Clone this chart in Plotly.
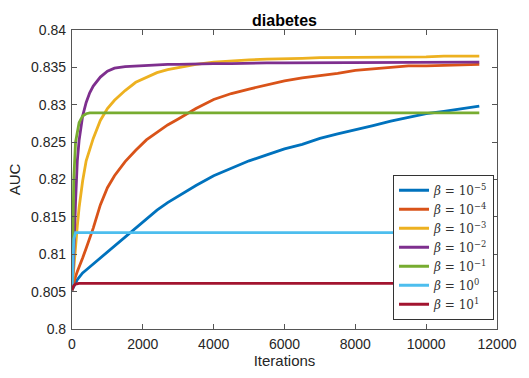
import plotly.graph_objects as go

# Iteration grid (dense near the start, where the curves rise fastest)
iterations = [0, 50, 100, 150, 200, 300, 400, 500, 600, 800, 1000, 1200, 1500,
              1800, 2100, 2400, 2700, 3000, 3500, 4000, 4500, 5000, 5500, 6000,
              6500, 7000, 7500, 8000, 8500, 9000, 9500, 10000, 10500, 11000, 11500]

auc_beta_1e_5 = [0.8052, 0.8057, 0.8062, 0.8066, 0.8069, 0.8075, 0.8079, 0.8083, 0.8087,
                 0.8096, 0.8104, 0.8112, 0.8124, 0.8136, 0.8147, 0.8159, 0.8169, 0.8178,
                 0.8192, 0.8205, 0.8215, 0.8225, 0.8233, 0.8241, 0.8247, 0.8255, 0.8261,
                 0.8266, 0.8272, 0.8278, 0.8283, 0.8288, 0.8291, 0.8294, 0.8298]
auc_beta_1e_4 = [0.8052, 0.8062, 0.8070, 0.8077, 0.8084, 0.8095, 0.8108, 0.8121, 0.8135,
                 0.8166, 0.8189, 0.8205, 0.8224, 0.8239, 0.8253, 0.8263, 0.8273, 0.8281,
                 0.8295, 0.8307, 0.8315, 0.8321, 0.8327, 0.8332, 0.8336, 0.8339, 0.8342,
                 0.8346, 0.8348, 0.8350, 0.8352, 0.8352, 0.8353, 0.8354, 0.8354]
auc_beta_1e_3 = [0.8052, 0.8085, 0.8115, 0.8138, 0.8162, 0.8198, 0.8225, 0.8240, 0.8255,
                 0.8279, 0.8295, 0.8306, 0.8319, 0.8330, 0.8337, 0.8343, 0.8347, 0.8350,
                 0.8354, 0.8357, 0.8359, 0.8360, 0.8361, 0.8361, 0.8362, 0.8363, 0.8363,
                 0.8363, 0.8364, 0.8364, 0.8364, 0.8364, 0.8365, 0.8365, 0.8365]
auc_beta_1e_2 = [0.8052, 0.8100, 0.8170, 0.8225, 0.8252, 0.8285, 0.8303, 0.8316, 0.8325,
                 0.8337, 0.8345, 0.8349, 0.8351, 0.8352, 0.8353, 0.8353, 0.8354, 0.8354,
                 0.8355, 0.8355, 0.8355, 0.8356, 0.8356, 0.8356, 0.8356, 0.8356, 0.8356,
                 0.8356, 0.8356, 0.8356, 0.8357, 0.8357, 0.8357, 0.8357, 0.8357]
auc_beta_1e_1 = [0.8052, 0.8200, 0.8250, 0.8266, 0.8276, 0.8285, 0.8288, 0.8289, 0.8289,
                 0.8289, 0.8289, 0.8289, 0.8289, 0.8289, 0.8289, 0.8289, 0.8289, 0.8289,
                 0.8289, 0.8289, 0.8289, 0.8289, 0.8289, 0.8289, 0.8289, 0.8289, 0.8289,
                 0.8289, 0.8289, 0.8289, 0.8289, 0.8289, 0.8289, 0.8289, 0.8289]
auc_beta_1e0 = [0.8052, 0.8120, 0.8129, 0.8129, 0.8129, 0.8129, 0.8129, 0.8129, 0.8129,
                0.8129, 0.8129, 0.8129, 0.8129, 0.8129, 0.8129, 0.8129, 0.8129, 0.8129,
                0.8129, 0.8129, 0.8129, 0.8129, 0.8129, 0.8129, 0.8129, 0.8129, 0.8129,
                0.8129, 0.8129, 0.8129, 0.8129, 0.8129, 0.8129, 0.8129, 0.8129]
auc_beta_1e1 = [0.8052, 0.8058, 0.8060, 0.8061, 0.8061, 0.8061, 0.8061, 0.8061, 0.8061,
                0.8061, 0.8061, 0.8061, 0.8061, 0.8061, 0.8061, 0.8061, 0.8061, 0.8061,
                0.8061, 0.8061, 0.8061, 0.8061, 0.8061, 0.8061, 0.8061, 0.8061, 0.8061,
                0.8061, 0.8061, 0.8061, 0.8061, 0.8061, 0.8061, 0.8061, 0.8061]

series_labels = ["<i>β</i> = 10<sup>−5</sup>", "<i>β</i> = 10<sup>−4</sup>",
                 "<i>β</i> = 10<sup>−3</sup>", "<i>β</i> = 10<sup>−2</sup>",
                 "<i>β</i> = 10<sup>−1</sup>", "<i>β</i> = 10<sup>0</sup>",
                 "<i>β</i> = 10<sup>1</sup>"]
series_values = [auc_beta_1e_5, auc_beta_1e_4, auc_beta_1e_3, auc_beta_1e_2,
                 auc_beta_1e_1, auc_beta_1e0, auc_beta_1e1]
series_colors = ["#0072BD", "#D95319", "#EDB120", "#7E2F8E",
                 "#77AC30", "#4DBEEE", "#A2142F"]

y_ticks = [0.8, 0.805, 0.81, 0.815, 0.82, 0.825, 0.83, 0.835, 0.84]
y_tick_text = ["0.8", "0.805", "0.81", "0.815", "0.82", "0.825", "0.83", "0.835", "0.84"]
x_ticks = [0, 2000, 4000, 6000, 8000, 10000, 12000]

fig = go.Figure()
for label, values, color in zip(series_labels, series_values, series_colors):
    fig.add_trace(go.Scatter(x=iterations, y=values, mode="lines", name=label,
                             line=dict(color=color, width=2.8)))

axis_color = "#555555"
text_color = "#262626"
base_font = "Liberation Sans, Arial, Helvetica, sans-serif"

common_axis = dict(showline=True, linecolor=axis_color, linewidth=1.2, mirror="ticks",
                   ticks="inside", ticklen=5, tickwidth=1, tickcolor=axis_color,
                   showgrid=False, zeroline=False, ticklabelstandoff=2,
                   tickfont=dict(family=base_font, size=14, color=text_color))

fig.update_xaxes(range=[0, 12000], tickvals=x_ticks, tickformat="d",
                 title=dict(text="Iterations", standoff=4,
                            font=dict(family=base_font, size=15, color=text_color)),
                 **common_axis)
fig.update_yaxes(range=[0.8, 0.84], tickvals=y_ticks, ticktext=y_tick_text,
                 title=dict(text="AUC", standoff=6,
                            font=dict(family=base_font, size=15, color=text_color)),
                 **common_axis)

fig.update_layout(
    width=529, height=378,
    margin=dict(l=72, r=23, t=30, b=47),
    paper_bgcolor="white", plot_bgcolor="white",
    title=dict(text="<b>diabetes</b>", x=0.5, xref="paper", xanchor="center",
               y=0.947, yref="container", yanchor="middle",
               font=dict(family=base_font, size=16, color="#000000")),
    legend=dict(x=0.993, xanchor="right", y=0.031, yanchor="bottom",
                bgcolor="white", bordercolor="#333333", borderwidth=1,
                font=dict(family="DejaVu Serif, Liberation Serif, serif", size=12,
                          color="#333333"),
                tracegroupgap=0, itemwidth=30),
    showlegend=True,
)

fig.write_html("out.html")
